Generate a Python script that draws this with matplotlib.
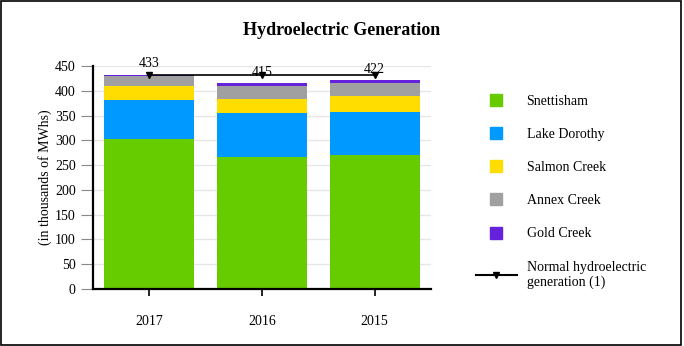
import numpy as np
import matplotlib
matplotlib.use("Agg")
import matplotlib.pyplot as plt
from matplotlib.lines import Line2D
from matplotlib.patches import Rectangle

plt.rcParams['font.family'] = ['Liberation Serif', 'DejaVu Serif']

years = ['2017', '2016', '2015']
snettisham = [303, 266, 270]
lake_dorothy = [78, 89, 87]
salmon_creek = [28, 28, 32]
annex_creek = [20, 27, 27]
gold_creek = [4, 5, 6]
totals = [433, 415, 422]
normal_gen = [432, 432, 432]

series = [snettisham, lake_dorothy, salmon_creek, annex_creek, gold_creek]
names = ['Snettisham', 'Lake Dorothy', 'Salmon Creek', 'Annex Creek', 'Gold Creek']
colors = ['#66cc00', '#0099ff', '#ffdd00', '#a0a0a0', '#6621dd']

fig = plt.figure(figsize=(6.84, 3.46), dpi=100)
ax = fig.add_axes([0.136, 0.165, 0.494, 0.644])

x = np.arange(len(years))
bottom = np.zeros(len(years))
for vals, c in zip(series, colors):
    ax.bar(x, vals, width=0.8, bottom=bottom, color=c, edgecolor='none', zorder=2)
    bottom += np.array(vals)

ax.plot(x, normal_gen, color='black', lw=1.2, marker='v', ms=4,
        mfc='black', mec='black', zorder=4)

for xi, t in zip(x, totals):
    ax.annotate(str(t), (xi, t), xytext=(0, 3), textcoords='offset points',
                ha='center', va='bottom', fontsize=10, zorder=5)

ax.set_xlim(-0.5, 2.5)
ax.set_ylim(0, 450)
ax.set_yticks(np.arange(0, 451, 50))
ax.set_xticks(x)
ax.set_xticklabels(years, fontsize=10)
ax.tick_params(axis='y', labelsize=10, length=9, color='#888888', width=0.8)
ax.tick_params(axis='x', length=5, width=1.2, pad=14)
ax.yaxis.grid(True, color='#e6e6e6', lw=1, zorder=0)
ax.set_axisbelow(True)
for s in ['top', 'right']:
    ax.spines[s].set_visible(False)
for s in ['left', 'bottom']:
    ax.spines[s].set_linewidth(1.6)
ax.set_ylabel('(in thousands of MWhs)', fontsize=10, labelpad=2)

fig.text(0.5, 0.912, 'Hydroelectric Generation', ha='center', va='center',
         fontsize=13, fontweight='bold')

handles = [Line2D([], [], ls='none', marker='s', ms=9, mfc=c, mec=c) for c in colors]
handles.append(Line2D([], [], color='black', lw=1.5, marker='v', ms=4))
labels = names + ['Normal hydroelectric\ngeneration (1)']
fig.legend(handles, labels, loc='upper left', bbox_to_anchor=(0.678, 0.762),
           frameon=False, fontsize=10, handlelength=2.9, handletextpad=0.72,
           labelspacing=1.45)

# outer frame
fig.add_artist(Rectangle((0.002, 0.004), 0.994, 0.992, transform=fig.transFigure,
                         fill=False, ec='black', lw=1.2))

fig.savefig('out.png', dpi=100)
